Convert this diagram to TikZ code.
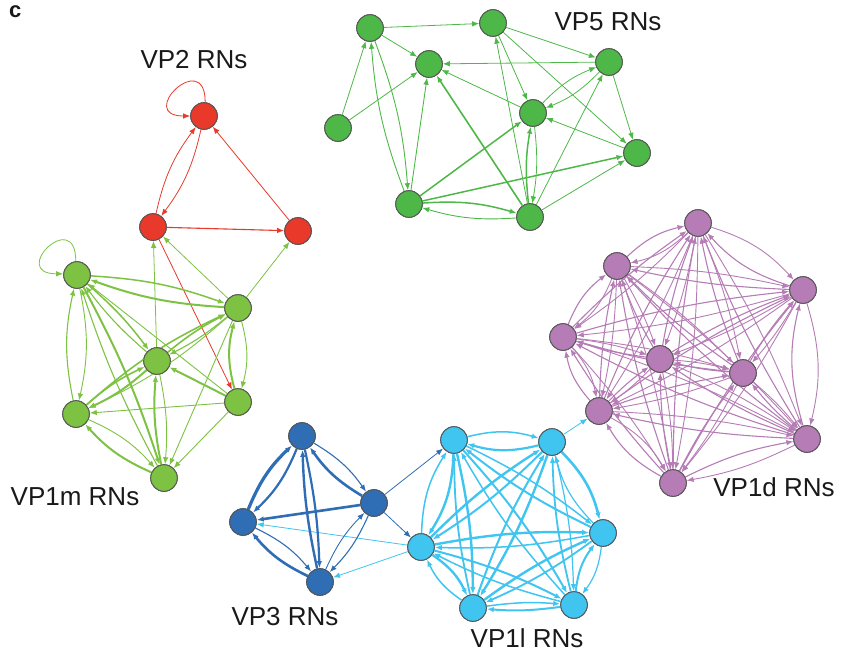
\documentclass[tikz,border=0pt]{standalone}
\usepackage{fontspec}
\setmainfont{Liberation Sans}
\usetikzlibrary{arrows.meta}
\definecolor{cred}{RGB}{232,57,42}
\definecolor{cgv}{RGB}{77,184,72}
\definecolor{cgm}{RGB}{125,194,66}
\definecolor{cblu}{RGB}{47,109,181}
\definecolor{ccy}{RGB}{64,196,240}
\definecolor{cpu}{RGB}{181,124,181}
\definecolor{cbd}{RGB}{85,85,85}
\begin{document}
\begin{tikzpicture}[x=1pt,y=-1pt,
 nd/.style={circle,draw=cbd,line width=0.7pt,minimum size=27pt,inner sep=0pt},
 ar/.style={-{Latex[length=7pt,width=5.5pt]}, line width=0.8pt},
 lab/.style={font=\fontsize{26}{30}\selectfont, text=black!90, inner sep=0pt}
]
\useasboundingbox (0,0) rectangle (850,656);
% labels
\node[font=\bfseries\fontsize{22}{26}\selectfont, text=black!90, inner sep=0pt, anchor=north west] (lc) at (9,5) {c};
\node[lab] (l2) at (194,60) {VP2 RNs};
\node[lab] (l5) at (608,22) {VP5 RNs};
\node[lab] (l1m) at (75,497) {VP1m RNs};
\node[lab] (l3) at (285,617) {VP3 RNs};
\node[lab] (l1l) at (527,638) {VP1l RNs};
\node[lab] (l1d) at (774,487) {VP1d RNs};

% nodes VP2
\node[nd,fill=cred] (R1) at (204,116) {};
\node[nd,fill=cred] (R2) at (153,227) {};
\node[nd,fill=cred] (R3) at (298,231) {};
% VP5
\node[nd,fill=cgv] (G1) at (370,28) {};
\node[nd,fill=cgv] (G2) at (493,23) {};
\node[nd,fill=cgv] (G3) at (429,64) {};
\node[nd,fill=cgv] (G4) at (609,62) {};
\node[nd,fill=cgv] (G5) at (338,128) {};
\node[nd,fill=cgv] (G6) at (533,113) {};
\node[nd,fill=cgv] (G7) at (637,153) {};
\node[nd,fill=cgv] (G8) at (409,204) {};
\node[nd,fill=cgv] (G9) at (530,217) {};
% VP1m
\node[nd,fill=cgm] (M1) at (77,275) {};
\node[nd,fill=cgm] (M2) at (238,308) {};
\node[nd,fill=cgm] (M3) at (157,361) {};
\node[nd,fill=cgm] (M4) at (238,402) {};
\node[nd,fill=cgm] (M5) at (76,414) {};
\node[nd,fill=cgm] (M6) at (164,478) {};
% VP3
\node[nd,fill=cblu] (B1) at (302,436) {};
\node[nd,fill=cblu] (B2) at (243,522) {};
\node[nd,fill=cblu] (B3) at (374,503) {};
\node[nd,fill=cblu] (B4) at (320,582) {};
% VP1l
\node[nd,fill=ccy] (C1) at (454,440) {};
\node[nd,fill=ccy] (C2) at (552,442) {};
\node[nd,fill=ccy] (C3) at (603,533) {};
\node[nd,fill=ccy] (C4) at (421,547) {};
\node[nd,fill=ccy] (C5) at (473,608) {};
\node[nd,fill=ccy] (C6) at (574,605) {};
% VP1d
\node[nd,fill=cpu] (P1) at (698,223) {};
\node[nd,fill=cpu] (P2) at (617,266) {};
\node[nd,fill=cpu] (P3) at (803,290) {};
\node[nd,fill=cpu] (P4) at (563,337) {};
\node[nd,fill=cpu] (P5) at (660,359) {};
\node[nd,fill=cpu] (P6) at (743,373) {};
\node[nd,fill=cpu] (P7) at (599,411) {};
\node[nd,fill=cpu] (P8) at (807,439) {};
\node[nd,fill=cpu] (P9) at (673,483) {};

% VP2 edges
\draw[ar,cred] (R1.85) .. controls +(0,-55) and +(-55,0) .. (R1.180);
\draw[ar,cred] (R2) to[bend left=12] (R1);
\draw[ar,cred] (R1) to[bend left=12] (R2);
\draw[ar,cred,line width=1.1pt] (R2) -- (R3);
\draw[ar,cred] (R3) -- (R1);
\draw[ar,cred] (R2) -- (M4);
% cross
\draw[ar,cgm] (M3) -- (R2);
\draw[ar,cgm] (M2) -- (R2);
\draw[ar,cgm] (M2) -- (R3);
\draw[ar,cblu] (B3) -- (C1);
\draw[ar,cblu] (B3) -- (C4);
\draw[ar,ccy] (C4) -- (B2);
\draw[ar,ccy] (C4) -- (B4);
\draw[ar,ccy] (C2) -- (P7);
% VP5
\foreach \a/\b/\w/\bb in {G1/G2/0.8/0, G1/G3/0.8/0, G5/G1/0.8/0, G5/G3/0.8/0,
  G1/G8/0.9/8, G8/G1/0.9/8, G8/G3/0.9/0, G9/G3/1.6/0, G6/G3/0.8/0, G4/G3/0.8/0,
  G2/G4/0.8/0, G2/G6/0.8/0, G2/G7/0.8/0, G9/G2/0.8/0, G4/G6/0.8/12, G6/G4/0.8/12,
  G4/G7/0.8/0, G7/G6/0.8/0, G8/G6/1.5/0, G8/G7/1.5/0, G8/G9/1.5/10, G9/G8/0.9/10,
  G6/G9/0.8/8, G9/G6/1.5/8, G9/G4/0.8/0, G9/G7/0.8/0}
  {\draw[ar,cgv,line width=\w pt] (\a) to[bend left=\bb] (\b);}
% VP1m
\draw[ar,cgm] (M1.95) .. controls +(0,-55) and +(-55,0) .. (M1.175);
\foreach \a/\b/\w/\bb in {M1/M2/1.5/8, M2/M1/2.0/8, M1/M3/1.5/6, M3/M1/1.1/6, M4/M1/0.9/0,
  M1/M5/0.9/12, M5/M1/1.1/12, M1/M6/2.0/5, M6/M1/1.1/5, M2/M3/1.1/6, M3/M2/1.6/6,
  M2/M5/0.9/8, M5/M2/1.6/8, M2/M4/0.9/15, M4/M2/2.0/15, M2/M6/0.9/0, M4/M3/2.0/0,
  M4/M5/0.9/0, M4/M6/0.9/0, M3/M5/2.0/8, M5/M3/1.6/8, M3/M6/0.9/8, M6/M3/2.0/8,
  M5/M6/0.9/12, M6/M5/2.0/12}
  {\draw[ar,cgm,line width=\w pt] (\a) to[bend left=\bb] (\b);}
% VP3
\foreach \a/\b/\w/\bb in {B1/B2/2.2/12, B2/B1/3.2/12, B1/B3/1.1/12, B3/B1/2.6/12,
  B1/B4/2.2/5, B4/B1/2.4/5, B3/B2/2.6/0, B2/B4/1.1/12, B4/B2/2.6/12, B3/B4/1.1/10, B4/B3/0.9/10}
  {\draw[ar,cblu,line width=\w pt] (\a) to[bend left=\bb] (\b);}
% VP1l
\foreach \a/\b/\w/\bb in {C1/C2/1.5/15, C2/C1/2.2/15, C1/C3/1.5/6, C3/C1/2.0/6,
  C1/C4/2.4/15, C4/C1/1.5/15, C1/C5/2.4/6, C5/C1/1.8/6, C1/C6/2.0/6, C6/C1/1.5/6,
  C2/C3/2.6/15, C3/C2/1.2/15, C2/C4/2.0/6, C4/C2/2.4/6, C2/C5/2.4/6, C5/C2/2.0/6,
  C2/C6/1.2/6, C6/C2/1.8/6, C3/C4/1.5/6, C4/C3/2.4/6, C3/C5/1.8/6, C5/C3/2.4/6,
  C3/C6/1.2/15, C6/C3/2.0/15, C4/C5/2.4/15, C5/C4/1.5/15, C4/C6/2.0/6, C6/C4/1.5/6,
  C5/C6/1.5/6, C6/C5/2.0/6}
  {\draw[ar,ccy,line width=\w pt] (\a) to[bend left=\bb] (\b);}
% VP1d
\foreach \a/\b/\bb in {1/2/15,1/3/15,1/4/5,1/5/5,1/6/5,1/7/5,1/8/5,1/9/5,
  2/3/5,2/4/15,2/5/5,2/6/5,2/7/5,2/8/5,2/9/5,
  3/4/5,3/5/5,3/6/5,3/7/5,3/8/15,3/9/5,
  4/5/5,4/6/5,4/7/15,4/8/5,4/9/5,
  5/6/5,5/7/5,5/8/5,5/9/5,
  6/7/5,6/8/5,6/9/5,
  7/8/5,7/9/15,8/9/8}
  {\draw[ar,cpu,line width=0.9pt] (P\a) to[bend left=\bb] (P\b);
   \draw[ar,cpu,line width=1.1pt] (P\b) to[bend left=\bb] (P\a);}
% redraw nodes on top
\foreach \n/\c in {R1/cred,R2/cred,R3/cred,G1/cgv,G2/cgv,G3/cgv,G4/cgv,G5/cgv,G6/cgv,G7/cgv,G8/cgv,G9/cgv,
  M1/cgm,M2/cgm,M3/cgm,M4/cgm,M5/cgm,M6/cgm,B1/cblu,B2/cblu,B3/cblu,B4/cblu,
  C1/ccy,C2/ccy,C3/ccy,C4/ccy,C5/ccy,C6/ccy,P1/cpu,P2/cpu,P3/cpu,P4/cpu,P5/cpu,P6/cpu,P7/cpu,P8/cpu,P9/cpu}
  {\fill[\c,draw=cbd,line width=0.7pt] (\n) circle[radius=13.2pt];}
\end{tikzpicture}
\end{document}
